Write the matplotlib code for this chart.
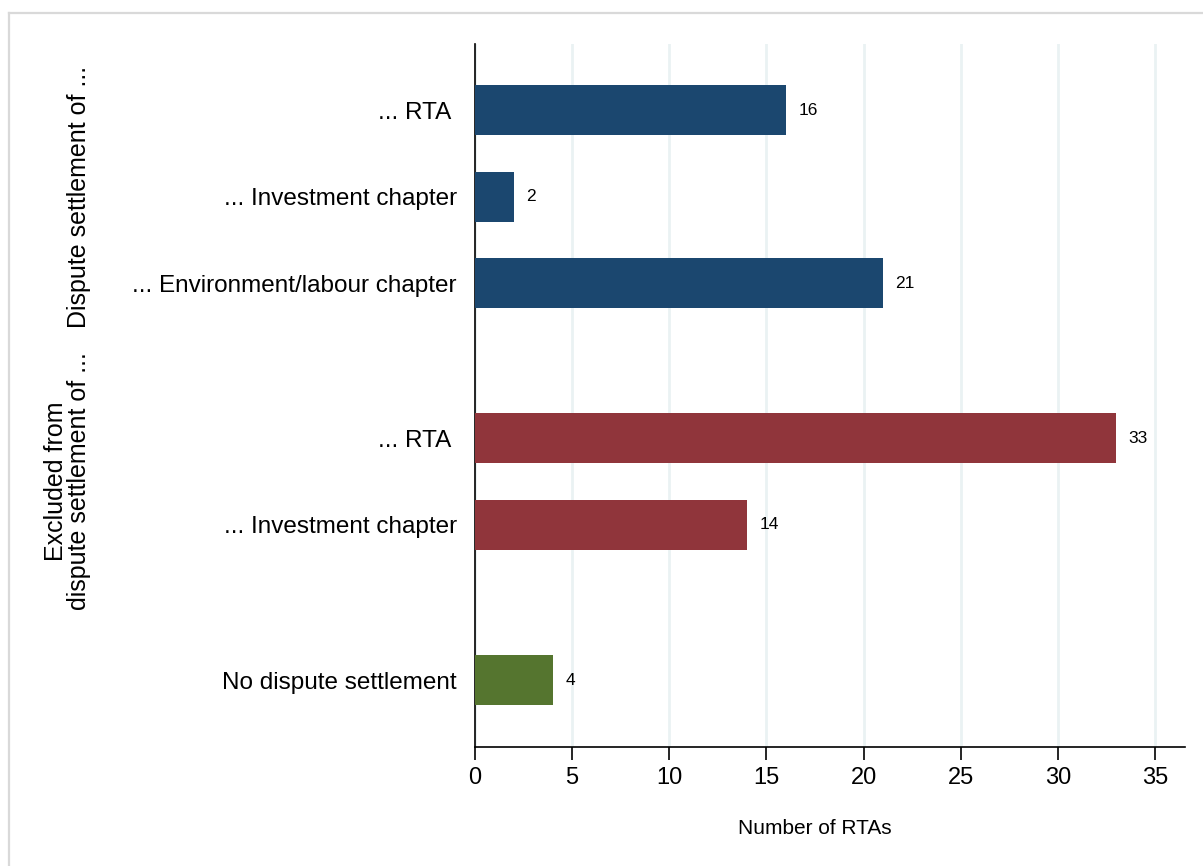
import matplotlib
matplotlib.use('Agg')
import matplotlib.pyplot as plt
from matplotlib.lines import Line2D
from matplotlib.transforms import blended_transform_factory

# data
labels = ['... RTA ', '... Investment chapter', '... Environment/labour chapter',
          '... RTA ', '... Investment chapter', 'No dispute settlement']
values = [16, 2, 21, 33, 14, 4]
groups = [0, 0, 0, 1, 1, 2]
group_titles = ['Dispute settlement of ...', 'Excluded from\ndispute settlement of ...']
group_colors = ['#1b476f', '#90353b', '#55752f']
xticks = [0, 5, 10, 15, 20, 25, 30, 35]
xlabel = 'Number of RTAs'

GAP = 0.8  # extra space between groups


def main():
    plt.rcParams['font.family'] = ['Liberation Sans', 'DejaVu Sans']
    W, H = 1203, 866
    fig = plt.figure(figsize=(W / 100, H / 100), dpi=100)
    fig.patch.set_facecolor('white')
    ax = fig.add_axes([475 / W, 1 - 746.5 / H, (1185 - 475) / W, (746.5 - 44) / H])

    pos = [i + g * GAP for i, g in enumerate(groups)]
    colors = [group_colors[g] for g in groups]
    ax.barh(pos, values, height=0.58, color=colors, zorder=3)
    for p, v in zip(pos, values):
        ax.annotate(str(v), (v, p), xytext=(9, 0), textcoords='offset points',
                    va='center', ha='left', fontsize=12.5)

    ax.set_ylim(pos[-1] + 0.77, pos[0] - 0.77)
    ax.set_xlim(0, 36.54)
    ax.set_yticks(pos)
    ax.set_yticklabels(labels, fontsize=17.5)
    ax.tick_params(axis='y', length=0, pad=13)
    ax.set_xticks(xticks)
    ax.tick_params(axis='x', length=9, width=1.2, labelsize=17, pad=6)
    ax.grid(axis='x', color='#eaf2f3', linewidth=2, zorder=0)
    for s in ['top', 'right']:
        ax.spines[s].set_visible(False)
    for s in ['left', 'bottom']:
        ax.spines[s].set_linewidth(1.2)

    # group titles on the left, centred on each group
    tr = blended_transform_factory(fig.transFigure, ax.transData)
    for g, title in enumerate(group_titles):
        ps = [p for p, gg in zip(pos, groups) if gg == g]
        yc = (min(ps) + max(ps)) / 2
        ax.text(91 / W, yc, title, transform=tr, rotation=90, ha='right',
                va='center', fontsize=18, multialignment='center', linespacing=0.95)

    fig.text(815 / W, 1 - 828 / H, xlabel, ha='center', va='center', fontsize=15)

    # light outer frame (top and left edges visible)
    fig.add_artist(Line2D([9 / W, 1.0], [1 - 13 / H, 1 - 13 / H], transform=fig.transFigure,
                          color='#d9d9d9', linewidth=1.6))
    fig.add_artist(Line2D([9 / W, 9 / W], [0, 1 - 13 / H], transform=fig.transFigure,
                          color='#d9d9d9', linewidth=1.6))

    fig.savefig('out.png', dpi=100)


if __name__ == '__main__':
    main()
